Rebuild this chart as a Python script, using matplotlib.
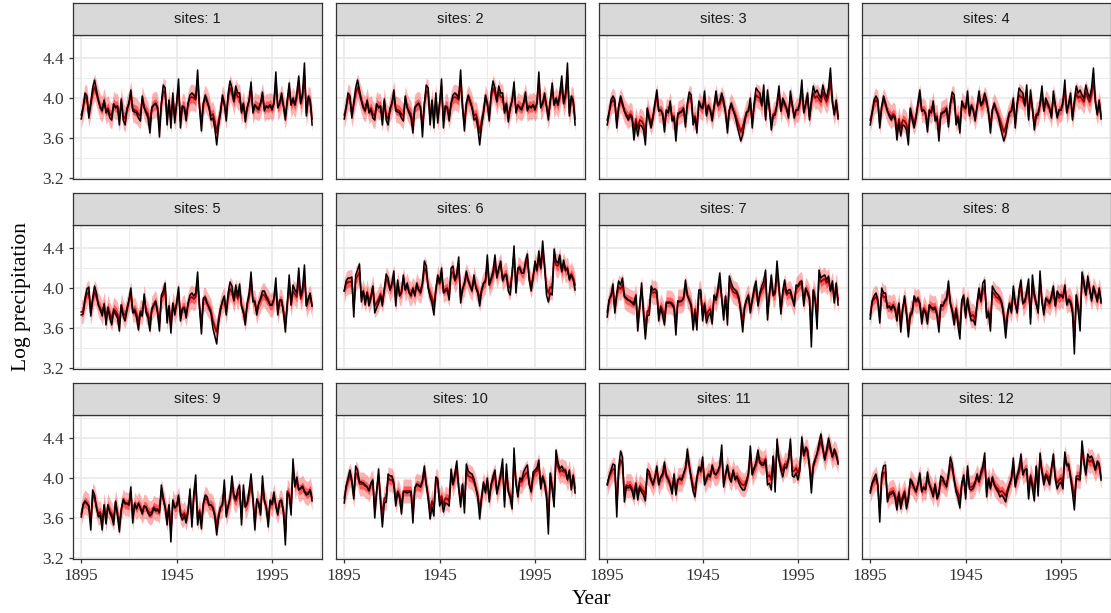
import matplotlib.pyplot as plt
import numpy as np

# Years on the x axis
years = np.arange(1895, 2017)

# Observed log precipitation (black line), one list per site
obs_01 = [3.79, 3.90, 4.05, 4.02, 3.80, 3.95, 4.10, 4.18, 4.08, 3.98,
          3.90, 3.87, 3.98, 3.85, 3.88, 3.80, 3.78, 3.94, 3.90, 3.92,
          3.73, 3.99, 3.78, 3.73, 3.88, 3.95, 4.08, 3.87, 3.86, 3.85,
          3.80, 3.77, 4.02, 3.90, 3.85, 3.80, 3.65, 3.90, 3.93, 3.95,
          3.90, 3.61, 3.95, 4.13, 4.10, 3.73, 3.98, 3.70, 4.05, 3.75,
          3.95, 4.19, 3.70, 3.92, 3.90, 3.77, 3.95, 4.03, 4.05, 4.03,
          4.00, 4.28, 3.90, 3.67, 3.95, 4.03, 3.97, 3.90, 3.78, 3.80,
          3.70, 3.53, 3.72, 3.85, 4.03, 3.95, 3.77, 4.05, 4.17, 4.10,
          3.97, 4.12, 4.05, 4.05, 3.85, 3.95, 3.76, 3.90, 3.98, 4.16,
          3.85, 3.93, 3.90, 3.88, 3.95, 4.06, 3.87, 3.92, 3.90, 3.93,
          3.88, 3.95, 4.26, 3.90, 3.95, 4.05, 3.92, 3.78, 3.98, 4.15,
          3.93, 4.00, 3.93, 4.05, 4.22, 3.95, 4.05, 4.35, 3.82, 4.02,
          3.98, 3.73]
obs_02 = obs_01  # sites 1 and 2 show the same observations
obs_03 = [3.73, 3.85, 3.98, 4.02, 3.98, 3.70, 3.92, 4.02, 3.95, 3.87,
          3.82, 3.78, 3.82, 3.80, 3.58, 3.75, 3.62, 3.73, 3.72, 3.68,
          3.53, 3.90, 3.78, 3.70, 3.80, 3.95, 4.08, 3.87, 3.88, 3.84,
          3.66, 3.88, 3.85, 3.97, 3.77, 3.80, 3.57, 3.83, 3.85, 3.86,
          3.90, 3.71, 3.95, 4.06, 4.03, 3.73, 3.80, 3.65, 3.97, 3.92,
          3.90, 4.07, 3.82, 3.93, 3.88, 3.77, 3.92, 4.07, 3.93, 3.97,
          4.05, 3.98, 3.85, 3.65, 3.88, 3.95, 3.88, 3.82, 3.73, 3.65,
          3.57, 3.63, 3.75, 3.85, 3.87, 4.00, 3.70, 3.95, 4.10, 4.07,
          4.05, 3.93, 4.13, 3.78, 4.08, 3.90, 3.68, 3.82, 3.83, 3.95,
          4.12, 3.87, 4.00, 3.95, 3.90, 3.80, 4.07, 3.93, 3.80, 3.88,
          3.88, 3.97, 4.18, 3.85, 3.95, 4.05, 3.78, 3.98, 4.12, 4.05,
          4.08, 4.03, 4.00, 4.13, 4.05, 4.00, 4.10, 4.30, 3.98, 3.83,
          3.98, 3.79]
obs_04 = obs_03  # sites 3 and 4 show the same observations
obs_05 = [3.73, 3.74, 3.90, 3.99, 4.01, 3.72, 3.90, 4.02, 3.95, 3.83,
          3.78, 3.72, 3.84, 3.63, 3.80, 3.70, 3.63, 3.77, 3.74, 3.70,
          3.57, 3.83, 3.72, 3.67, 3.78, 3.88, 4.00, 3.75, 3.77, 3.70,
          3.58, 3.75, 3.72, 3.94, 3.75, 3.70, 3.57, 3.78, 3.83, 3.87,
          3.75, 3.57, 3.93, 3.97, 4.05, 3.65, 3.82, 3.55, 3.85, 3.73,
          3.85, 4.01, 3.67, 3.78, 3.80, 3.70, 3.85, 3.93, 3.95, 3.92,
          3.95, 4.16, 3.80, 3.54, 3.90, 3.91, 3.85, 3.80, 3.75, 3.60,
          3.52, 3.44, 3.65, 3.78, 3.87, 3.92, 3.73, 3.95, 4.06, 4.02,
          3.88, 4.03, 3.92, 4.04, 3.82, 3.75, 3.63, 3.85, 3.95, 4.16,
          3.87, 3.87, 3.73, 3.85, 3.90, 3.97, 3.97, 3.92, 3.88, 3.83,
          3.83, 3.90, 4.10, 3.73, 3.88, 3.88, 3.75, 3.56, 3.85, 4.13,
          3.83, 4.03, 3.98, 3.95, 4.20, 3.92, 4.00, 4.23, 3.82, 3.90,
          3.95, 3.82]
obs_06 = [3.97, 4.07, 4.10, 4.10, 4.11, 3.71, 4.13, 4.18, 4.24, 3.86,
          3.97, 3.83, 3.95, 3.82, 3.90, 4.02, 3.75, 3.80, 3.85, 3.92,
          3.82, 3.98, 4.14, 4.10, 3.98, 4.05, 4.17, 3.82, 4.08, 3.92,
          3.95, 4.13, 3.98, 4.05, 3.95, 3.92, 4.00, 3.92, 4.05, 3.98,
          3.95, 4.05, 4.27, 4.22, 4.00, 3.91, 3.85, 3.73, 3.97, 4.13,
          4.05, 4.20, 3.95, 3.97, 3.98, 3.88, 4.20, 4.22, 4.08, 4.15,
          4.31, 3.85, 3.98, 4.05, 4.17, 4.08, 4.02, 3.97, 4.13, 4.00,
          3.95, 3.82, 3.97, 4.05, 4.07, 4.33, 4.03, 4.10, 4.17, 4.33,
          4.10, 4.20, 4.27, 4.07, 4.12, 4.13, 3.97, 3.93, 4.15, 4.42,
          3.95, 4.20, 4.21, 4.15, 4.15, 4.27, 4.34, 4.07, 3.97, 4.10,
          4.27, 4.18, 4.37, 4.20, 4.47, 4.23, 3.93, 3.86, 3.95, 3.93,
          4.39, 4.27, 4.25, 4.33, 4.17, 4.28, 4.18, 4.20, 4.08, 4.13,
          4.08, 3.98]
obs_07 = [3.71, 3.88, 3.93, 4.04, 3.75, 3.95, 4.07, 4.03, 4.10, 3.92,
          3.90, 3.88, 3.87, 3.85, 3.83, 3.93, 3.57, 3.80, 4.05, 3.73,
          3.49, 3.72, 3.73, 4.02, 3.98, 3.99, 3.97, 3.67, 3.80, 3.73,
          3.63, 3.85, 3.85, 3.85, 3.83, 3.80, 3.53, 3.87, 3.86, 3.87,
          3.90, 4.08, 3.93, 3.88, 3.82, 3.58, 3.75, 3.58, 3.98, 3.98,
          3.67, 3.83, 3.65, 3.72, 3.75, 3.64, 3.93, 3.88, 4.00, 4.15,
          3.90, 3.68, 3.92, 3.63, 4.12, 4.05, 4.00, 3.98, 3.96, 3.90,
          3.75, 3.56, 3.80, 3.88, 3.93, 3.75, 3.88, 4.00, 4.07, 3.82,
          3.95, 4.02, 4.07, 4.18, 3.68, 3.95, 4.13, 3.93, 3.97, 4.27,
          4.03, 3.74, 3.97, 4.08, 3.95, 3.98, 3.98, 3.90, 3.82, 4.03,
          4.02, 4.06, 4.07, 3.82, 4.00, 3.95, 3.88, 3.41, 3.98, 3.87,
          3.59, 4.18, 4.10, 4.12, 4.13, 4.08, 4.12, 3.97, 4.07, 3.85,
          4.05, 3.83]
obs_08 = [3.69, 3.87, 3.92, 3.95, 3.88, 3.65, 4.00, 3.95, 3.95, 3.80,
          3.82, 3.78, 3.83, 3.78, 3.67, 3.85, 3.56, 3.78, 3.92, 3.73,
          3.51, 3.72, 3.75, 3.92, 3.87, 3.90, 3.85, 3.64, 3.78, 3.75,
          3.64, 3.83, 3.80, 3.78, 3.80, 3.72, 3.56, 3.83, 3.82, 3.87,
          3.90, 4.07, 3.85, 3.76, 3.63, 3.78, 3.62, 3.49, 3.88, 3.93,
          3.70, 3.90, 3.75, 3.67, 3.68, 3.63, 3.85, 4.00, 3.87, 4.05,
          4.08, 3.70, 3.75, 3.57, 4.02, 3.98, 3.95, 3.93, 3.90, 3.85,
          3.70, 3.50, 3.73, 3.85, 3.75, 4.02, 3.85, 3.75, 3.98, 4.08,
          3.85, 3.87, 3.97, 4.09, 3.64, 4.13, 3.95, 3.85, 3.75, 4.17,
          3.87, 3.73, 3.90, 3.88, 3.85, 3.93, 4.02, 3.82, 3.97, 3.93,
          3.93, 3.90, 4.03, 3.83, 3.88, 3.85, 3.75, 3.34, 3.93, 3.77,
          3.57, 4.16, 4.07, 3.93, 4.12, 4.00, 3.87, 4.02, 3.95, 3.86,
          4.00, 3.85]
obs_09 = [3.61, 3.74, 3.77, 3.75, 3.72, 3.48, 3.88, 3.83, 3.70, 3.61,
          3.63, 3.48, 3.73, 3.54, 3.73, 3.65, 3.61, 3.53, 3.77, 3.62,
          3.46, 3.68, 3.79, 3.75, 3.75, 3.73, 3.91, 3.55, 3.75, 3.69,
          3.75, 3.70, 3.64, 3.72, 3.71, 3.65, 3.62, 3.64, 3.70, 3.67,
          3.68, 3.65, 3.93, 3.81, 3.70, 3.53, 3.73, 3.36, 3.78, 3.70,
          3.72, 3.83, 3.63, 3.58, 3.62, 3.55, 3.66, 3.89, 3.51, 3.85,
          4.03, 3.53, 3.66, 3.49, 3.75, 3.83, 3.81, 3.73, 3.73, 3.70,
          3.61, 3.43, 3.60, 3.70, 3.73, 3.98, 3.61, 3.72, 3.81, 4.02,
          3.84, 3.79, 3.88, 3.93, 3.53, 3.93, 3.71, 3.75, 3.88, 4.04,
          3.80, 3.48, 3.79, 3.75, 3.63, 4.02, 3.78, 3.70, 3.51, 3.78,
          3.74, 3.86, 3.72, 3.63, 3.77, 3.78, 3.65, 3.33, 3.85, 3.82,
          3.63, 4.19, 3.92, 4.01, 3.88, 3.90, 3.92, 3.86, 3.83, 3.84,
          3.88, 3.77]
obs_10 = [3.75, 3.92, 4.00, 4.08, 3.98, 3.79, 4.12, 4.08, 3.96, 3.96,
          3.95, 3.93, 3.91, 3.87, 3.95, 3.98, 3.60, 3.86, 4.09, 3.75,
          3.51, 3.75, 3.76, 4.04, 4.02, 4.02, 3.95, 3.72, 3.86, 3.80,
          3.64, 3.86, 3.86, 3.85, 3.86, 3.86, 3.55, 3.90, 3.94, 3.93,
          3.91, 3.98, 4.12, 3.94, 3.79, 3.59, 3.71, 3.62, 4.01, 3.99,
          3.72, 3.78, 3.66, 3.75, 3.74, 3.72, 4.09, 3.94, 4.05, 4.17,
          3.90, 3.71, 3.94, 3.65, 4.14, 4.07, 4.05, 4.04, 3.99, 3.90,
          3.80, 3.59, 3.79, 3.96, 3.85, 4.00, 3.76, 3.94, 4.02, 4.08,
          3.84, 3.94, 4.05, 4.19, 3.71, 4.14, 3.86, 3.80, 3.69, 4.30,
          3.96, 3.81, 4.00, 3.98, 4.06, 4.10, 4.13, 3.94, 3.86, 4.06,
          4.08, 4.10, 4.18, 3.89, 4.02, 3.94, 3.80, 3.44, 4.05, 3.88,
          3.71, 4.28, 4.16, 4.09, 4.12, 4.08, 4.08, 3.98, 4.08, 3.88,
          4.03, 3.85]
obs_11 = [3.93, 4.02, 4.08, 4.14, 4.13, 3.61, 4.11, 4.27, 4.21, 3.76,
          3.91, 3.90, 3.91, 3.87, 3.79, 3.94, 3.78, 3.90, 3.86, 3.83,
          3.77, 4.09, 4.06, 3.98, 3.93, 4.01, 4.12, 3.93, 4.01, 4.04,
          4.16, 4.03, 3.99, 3.93, 3.84, 4.04, 3.83, 3.98, 4.00, 3.98,
          4.04, 4.10, 4.29, 4.14, 3.99, 3.87, 3.81, 3.99, 4.11, 4.07,
          4.21, 3.93, 3.98, 4.03, 4.01, 4.13, 4.05, 4.03, 4.07, 4.13,
          4.33, 3.91, 4.03, 4.13, 4.00, 3.96, 4.08, 3.98, 4.01, 3.95,
          3.91, 3.88, 3.88, 3.95, 4.04, 4.32, 4.03, 4.10, 4.16, 4.28,
          4.15, 4.13, 4.13, 4.18, 3.93, 3.95, 3.88, 4.22, 3.86, 4.39,
          4.18, 4.08, 4.01, 4.11, 4.10, 4.18, 4.39, 4.02, 4.01, 4.05,
          3.98, 4.08, 4.41, 4.23, 4.31, 4.28, 4.10, 3.85, 4.11, 4.18,
          4.25, 4.35, 4.44, 4.31, 4.18, 4.29, 4.40, 4.31, 4.21, 4.29,
          4.24, 4.14]
obs_12 = [3.85, 3.95, 4.00, 4.04, 3.93, 3.56, 4.03, 4.12, 4.13, 3.76,
          3.83, 3.84, 3.86, 3.80, 3.68, 3.84, 3.69, 3.78, 3.85, 3.69,
          3.78, 3.99, 3.96, 3.90, 3.86, 3.94, 4.05, 3.86, 3.91, 3.88,
          4.06, 3.94, 3.88, 3.81, 3.94, 3.79, 3.84, 4.02, 4.00, 3.95,
          3.91, 4.04, 4.21, 4.14, 3.98, 3.86, 3.80, 3.70, 3.94, 4.03,
          3.79, 4.12, 3.89, 3.88, 3.90, 3.95, 4.04, 3.96, 4.06, 4.12,
          4.25, 3.81, 4.00, 3.89, 4.01, 3.93, 3.89, 3.86, 3.81, 3.83,
          3.80, 3.76, 3.86, 3.93, 4.00, 4.20, 3.91, 4.03, 4.10, 4.24,
          4.03, 4.08, 4.09, 3.79, 4.01, 3.90, 3.77, 4.12, 3.82, 4.25,
          4.06, 3.93, 4.02, 3.99, 3.93, 4.10, 4.24, 3.98, 3.89, 3.94,
          3.96, 3.89, 4.26, 4.13, 4.14, 4.00, 3.85, 3.68, 4.00, 3.99,
          3.98, 4.37, 4.18, 4.03, 4.24, 4.20, 4.22, 4.17, 4.08, 4.17,
          4.14, 3.98]

# Fitted values (dark red line, centre of the ribbons)
fit_01 = [3.83, 3.91, 4.01, 3.99, 3.84, 3.94, 4.05, 4.11, 4.04, 3.97,
          3.91, 3.89, 3.97, 3.87, 3.90, 3.84, 3.82, 3.94, 3.91, 3.92,
          3.79, 3.97, 3.82, 3.79, 3.90, 3.94, 4.04, 3.89, 3.88, 3.87,
          3.84, 3.82, 3.99, 3.91, 3.87, 3.84, 3.73, 3.91, 3.93, 3.94,
          3.91, 3.71, 3.94, 4.07, 4.05, 3.79, 3.97, 3.77, 4.01, 3.80,
          3.94, 4.11, 3.77, 3.92, 3.91, 3.82, 3.94, 4.00, 4.01, 4.00,
          3.98, 4.18, 3.91, 3.75, 3.94, 4.00, 3.96, 3.91, 3.82, 3.84,
          3.77, 3.65, 3.78, 3.87, 4.00, 3.94, 3.82, 4.01, 4.10, 4.05,
          3.96, 4.06, 4.01, 4.01, 3.87, 3.94, 3.81, 3.91, 3.97, 4.09,
          3.87, 3.93, 3.91, 3.90, 3.94, 4.02, 3.89, 3.92, 3.91, 3.93,
          3.90, 3.94, 4.16, 3.91, 3.94, 4.01, 3.92, 3.82, 3.97, 4.08,
          3.93, 3.98, 3.93, 4.01, 4.13, 3.94, 4.01, 4.22, 3.85, 3.99,
          3.97, 3.79]
fit_02 = fit_01
fit_03 = [3.78, 3.86, 3.95, 3.98, 3.95, 3.75, 3.91, 3.98, 3.93, 3.87,
          3.84, 3.81, 3.84, 3.82, 3.67, 3.79, 3.70, 3.78, 3.77, 3.74,
          3.64, 3.89, 3.81, 3.75, 3.82, 3.93, 4.02, 3.87, 3.88, 3.85,
          3.73, 3.88, 3.86, 3.94, 3.80, 3.82, 3.66, 3.85, 3.86, 3.87,
          3.89, 3.76, 3.93, 4.01, 3.99, 3.78, 3.82, 3.72, 3.94, 3.91,
          3.89, 4.01, 3.84, 3.92, 3.88, 3.80, 3.91, 4.01, 3.92, 3.94,
          4.00, 3.95, 3.86, 3.72, 3.88, 3.93, 3.88, 3.84, 3.78, 3.72,
          3.66, 3.71, 3.79, 3.86, 3.87, 3.96, 3.75, 3.93, 4.03, 4.01,
          4.00, 3.92, 4.06, 3.81, 4.02, 3.89, 3.74, 3.84, 3.85, 3.93,
          4.05, 3.87, 3.96, 3.93, 3.89, 3.82, 4.01, 3.92, 3.82, 3.88,
          3.88, 3.94, 4.09, 3.86, 3.93, 4.00, 3.81, 3.95, 4.05, 4.00,
          4.02, 3.99, 3.96, 4.06, 4.00, 3.96, 4.03, 4.17, 3.95, 3.85,
          3.95, 3.82]
fit_04 = fit_03
fit_05 = [3.76, 3.77, 3.88, 3.94, 3.96, 3.75, 3.88, 3.96, 3.91, 3.83,
          3.80, 3.75, 3.84, 3.69, 3.81, 3.74, 3.69, 3.79, 3.77, 3.74,
          3.65, 3.83, 3.75, 3.72, 3.80, 3.87, 3.95, 3.77, 3.79, 3.74,
          3.66, 3.77, 3.75, 3.91, 3.77, 3.74, 3.65, 3.80, 3.83, 3.86,
          3.77, 3.65, 3.90, 3.93, 3.98, 3.70, 3.82, 3.63, 3.84, 3.76,
          3.84, 3.96, 3.72, 3.80, 3.81, 3.74, 3.84, 3.90, 3.91, 3.89,
          3.91, 4.06, 3.81, 3.63, 3.88, 3.89, 3.84, 3.81, 3.77, 3.67,
          3.61, 3.56, 3.70, 3.80, 3.86, 3.89, 3.76, 3.91, 3.99, 3.96,
          3.87, 3.97, 3.89, 3.98, 3.82, 3.77, 3.69, 3.84, 3.91, 4.06,
          3.86, 3.86, 3.76, 3.84, 3.88, 3.93, 3.93, 3.89, 3.87, 3.83,
          3.83, 3.88, 4.02, 3.76, 3.87, 3.87, 3.77, 3.64, 3.84, 4.04,
          3.83, 3.97, 3.94, 3.91, 4.09, 3.89, 3.95, 4.11, 3.82, 3.88,
          3.91, 3.82]
fit_06 = [3.97, 4.04, 4.06, 4.06, 4.07, 3.79, 4.09, 4.12, 4.16, 3.90,
          3.97, 3.88, 3.96, 3.87, 3.92, 4.01, 3.82, 3.85, 3.89, 3.94,
          3.87, 3.98, 4.09, 4.06, 3.98, 4.03, 4.11, 3.87, 4.05, 3.94,
          3.96, 4.09, 3.98, 4.03, 3.96, 3.94, 3.99, 3.94, 4.03, 3.98,
          3.97, 4.04, 4.20, 4.16, 4.01, 3.95, 3.90, 3.82, 3.99, 4.10,
          4.04, 4.15, 3.97, 3.99, 4.00, 3.93, 4.15, 4.16, 4.07, 4.11,
          4.23, 3.90, 4.00, 4.04, 4.13, 4.07, 4.02, 3.99, 4.10, 4.01,
          3.97, 3.88, 3.99, 4.04, 4.06, 4.24, 4.03, 4.08, 4.13, 4.24,
          4.12, 4.19, 4.23, 4.09, 4.13, 4.14, 4.02, 4.00, 4.15, 4.34,
          4.01, 4.19, 4.19, 4.15, 4.15, 4.23, 4.28, 4.09, 4.02, 4.12,
          4.23, 4.17, 4.30, 4.19, 4.37, 4.21, 4.00, 3.95, 4.01, 4.00,
          4.32, 4.23, 4.22, 4.28, 4.16, 4.24, 4.17, 4.19, 4.10, 4.14,
          4.10, 4.03]
fit_07 = [3.76, 3.88, 3.92, 3.99, 3.79, 3.93, 4.01, 3.99, 4.03, 3.91,
          3.89, 3.88, 3.87, 3.86, 3.85, 3.92, 3.66, 3.82, 4.00, 3.78,
          3.61, 3.77, 3.78, 3.98, 3.95, 3.96, 3.94, 3.73, 3.82, 3.78,
          3.71, 3.86, 3.86, 3.86, 3.85, 3.82, 3.64, 3.87, 3.87, 3.87,
          3.89, 4.02, 3.92, 3.88, 3.84, 3.67, 3.79, 3.67, 3.95, 3.95,
          3.73, 3.85, 3.72, 3.77, 3.79, 3.71, 3.92, 3.88, 3.96, 4.07,
          3.89, 3.74, 3.91, 3.71, 4.05, 4.00, 3.96, 3.95, 3.94, 3.89,
          3.79, 3.66, 3.82, 3.88, 3.92, 3.79, 3.88, 3.96, 4.01, 3.84,
          3.93, 3.98, 4.01, 4.09, 3.74, 3.93, 4.06, 3.92, 3.94, 4.15,
          3.99, 3.78, 3.94, 4.02, 3.93, 3.95, 3.95, 3.89, 3.84, 3.99,
          4.01, 4.04, 4.04, 3.87, 3.99, 3.96, 3.91, 3.58, 3.98, 3.90,
          3.71, 4.12, 4.06, 4.08, 4.09, 4.05, 4.08, 3.97, 4.04, 3.89,
          4.03, 3.88]
fit_08 = [3.73, 3.86, 3.89, 3.91, 3.87, 3.70, 3.95, 3.91, 3.91, 3.81,
          3.82, 3.80, 3.83, 3.80, 3.72, 3.84, 3.64, 3.80, 3.89, 3.76,
          3.61, 3.75, 3.77, 3.89, 3.86, 3.88, 3.84, 3.70, 3.80, 3.77,
          3.70, 3.83, 3.81, 3.80, 3.81, 3.75, 3.64, 3.83, 3.82, 3.86,
          3.88, 4.00, 3.84, 3.78, 3.69, 3.80, 3.68, 3.59, 3.87, 3.90,
          3.74, 3.88, 3.77, 3.72, 3.73, 3.69, 3.84, 3.95, 3.86, 3.98,
          4.01, 3.74, 3.77, 3.65, 3.96, 3.94, 3.91, 3.90, 3.88, 3.84,
          3.74, 3.60, 3.76, 3.84, 3.77, 3.96, 3.84, 3.77, 3.94, 4.01,
          3.84, 3.86, 3.93, 4.01, 3.70, 4.04, 3.91, 3.84, 3.77, 4.07,
          3.86, 3.76, 3.88, 3.87, 3.84, 3.90, 3.96, 3.82, 3.93, 3.90,
          3.93, 3.91, 4.00, 3.86, 3.89, 3.87, 3.80, 3.51, 3.93, 3.82,
          3.68, 4.09, 4.03, 3.93, 4.06, 3.98, 3.89, 3.99, 3.94, 3.88,
          3.98, 3.87]
fit_09 = [3.64, 3.73, 3.76, 3.74, 3.72, 3.55, 3.83, 3.80, 3.71, 3.64,
          3.66, 3.55, 3.73, 3.59, 3.73, 3.67, 3.64, 3.59, 3.76, 3.65,
          3.54, 3.69, 3.77, 3.74, 3.74, 3.73, 3.85, 3.60, 3.74, 3.70,
          3.74, 3.71, 3.66, 3.72, 3.71, 3.67, 3.65, 3.66, 3.71, 3.69,
          3.69, 3.67, 3.87, 3.78, 3.71, 3.59, 3.73, 3.47, 3.76, 3.71,
          3.72, 3.80, 3.66, 3.62, 3.65, 3.60, 3.68, 3.84, 3.57, 3.81,
          3.94, 3.59, 3.68, 3.56, 3.74, 3.80, 3.78, 3.73, 3.73, 3.71,
          3.64, 3.52, 3.64, 3.71, 3.73, 3.90, 3.64, 3.72, 3.78, 3.93,
          3.80, 3.77, 3.83, 3.87, 3.59, 3.87, 3.71, 3.74, 3.83, 3.94,
          3.78, 3.55, 3.77, 3.74, 3.66, 3.93, 3.76, 3.71, 3.57, 3.76,
          3.73, 3.82, 3.72, 3.66, 3.76, 3.76, 3.67, 3.45, 3.87, 3.84,
          3.71, 4.10, 3.91, 3.97, 3.88, 3.89, 3.91, 3.87, 3.85, 3.85,
          3.88, 3.80]
fit_10 = [3.80, 3.91, 3.97, 4.03, 3.96, 3.82, 4.05, 4.03, 3.94, 3.94,
          3.94, 3.92, 3.91, 3.88, 3.94, 3.96, 3.69, 3.87, 4.03, 3.80,
          3.63, 3.80, 3.80, 4.00, 3.98, 3.98, 3.94, 3.77, 3.87, 3.83,
          3.72, 3.87, 3.87, 3.87, 3.87, 3.87, 3.66, 3.90, 3.93, 3.92,
          3.91, 3.96, 4.05, 3.93, 3.82, 3.68, 3.77, 3.70, 3.98, 3.96,
          3.77, 3.82, 3.73, 3.80, 3.79, 3.77, 4.03, 3.93, 4.01, 4.09,
          3.90, 3.77, 3.93, 3.73, 4.07, 4.02, 4.01, 4.00, 3.96, 3.90,
          3.83, 3.68, 3.82, 3.94, 3.87, 3.97, 3.80, 3.93, 3.98, 4.03,
          3.86, 3.93, 4.01, 4.10, 3.77, 4.07, 3.87, 3.83, 3.75, 4.18,
          3.94, 3.84, 3.97, 3.96, 4.01, 4.04, 4.06, 3.93, 3.87, 4.01,
          4.06, 4.07, 4.13, 3.92, 4.01, 3.96, 3.86, 3.61, 4.04, 3.92,
          3.80, 4.20, 4.11, 4.06, 4.08, 4.06, 4.06, 3.99, 4.06, 3.92,
          4.02, 3.90]
fit_11 = [3.94, 4.01, 4.05, 4.09, 4.08, 3.72, 4.07, 4.18, 4.14, 3.82,
          3.93, 3.92, 3.93, 3.90, 3.84, 3.95, 3.84, 3.92, 3.89, 3.87,
          3.83, 4.05, 4.03, 3.98, 3.94, 4.00, 4.08, 3.94, 4.00, 4.02,
          4.10, 4.01, 3.98, 3.94, 3.88, 4.02, 3.87, 3.98, 3.99, 3.98,
          4.04, 4.09, 4.22, 4.11, 4.01, 3.92, 3.88, 4.01, 4.09, 4.06,
          4.16, 3.97, 4.00, 4.04, 4.02, 4.11, 4.05, 4.04, 4.06, 4.11,
          4.25, 3.95, 4.04, 4.11, 4.02, 3.99, 4.07, 4.00, 4.02, 3.98,
          3.95, 3.93, 3.93, 3.98, 4.04, 4.24, 4.04, 4.09, 4.13, 4.21,
          4.17, 4.15, 4.15, 4.19, 4.01, 4.03, 3.98, 4.21, 3.96, 4.33,
          4.19, 4.12, 4.07, 4.14, 4.13, 4.19, 4.33, 4.07, 4.07, 4.10,
          4.05, 4.12, 4.35, 4.22, 4.28, 4.26, 4.13, 3.96, 4.14, 4.19,
          4.24, 4.31, 4.37, 4.28, 4.19, 4.26, 4.34, 4.28, 4.21, 4.26,
          4.23, 4.16]
fit_12 = [3.87, 3.94, 3.97, 4.00, 3.92, 3.66, 3.99, 4.05, 4.06, 3.80,
          3.85, 3.86, 3.87, 3.83, 3.75, 3.86, 3.75, 3.82, 3.87, 3.75,
          3.82, 3.96, 3.94, 3.90, 3.87, 3.93, 4.01, 3.87, 3.91, 3.89,
          4.01, 3.93, 3.89, 3.84, 3.93, 3.82, 3.86, 3.98, 3.97, 3.94,
          3.93, 4.02, 4.14, 4.09, 3.98, 3.89, 3.85, 3.78, 3.95, 4.01,
          3.84, 4.08, 3.91, 3.91, 3.92, 3.96, 4.02, 3.96, 4.03, 4.08,
          4.17, 3.86, 3.99, 3.91, 4.00, 3.94, 3.91, 3.89, 3.86, 3.87,
          3.85, 3.82, 3.89, 3.94, 3.99, 4.13, 3.93, 4.01, 4.06, 4.16,
          4.05, 4.08, 4.09, 3.88, 4.03, 3.95, 3.86, 4.11, 3.90, 4.20,
          4.07, 3.98, 4.04, 4.02, 3.98, 4.09, 4.19, 4.01, 3.95, 3.98,
          4.00, 3.95, 4.21, 4.12, 4.12, 4.02, 3.92, 3.80, 4.02, 4.02,
          4.01, 4.28, 4.15, 4.05, 4.19, 4.16, 4.18, 4.14, 4.08, 4.14,
          4.12, 4.01]

# Half widths of the 95% (light) and 50% (dark) bands per site
hw95 = [0.13, 0.13, 0.12, 0.12, 0.12, 0.12, 0.12, 0.12, 0.12, 0.12, 0.12, 0.12]
hw50 = [0.055, 0.055, 0.05, 0.05, 0.05, 0.05, 0.05, 0.05, 0.05, 0.05, 0.05, 0.05]

sites = list(range(1, 13))
obs_all = [obs_01, obs_02, obs_03, obs_04, obs_05, obs_06,
           obs_07, obs_08, obs_09, obs_10, obs_11, obs_12]
fit_all = [fit_01, fit_02, fit_03, fit_04, fit_05, fit_06,
           fit_07, fit_08, fit_09, fit_10, fit_11, fit_12]

W, H = 1111, 613
fig = plt.figure(figsize=(W / 100, H / 100), dpi=100)

def box(x, y, w, h):
    # pixel box (top-left origin) -> figure fraction
    return [x / W, 1 - (y + h) / H, w / W, h / H]

serif = 'Liberation Serif'
edge = '#333333'

for k, site in enumerate(sites):
    r, c = divmod(k, 4)
    x0 = 73 + 263 * c
    y0 = 35 + 190 * r
    ax = fig.add_axes(box(x0, y0, 249, 144))
    obs = np.array(obs_all[k])
    fit = np.array(fit_all[k])
    ax.fill_between(years, fit - hw95[k], fit + hw95[k], color='#FF0000', alpha=0.3, lw=0)
    ax.fill_between(years, fit - hw50[k], fit + hw50[k], color='#FF0000', alpha=0.5, lw=0)
    ax.plot(years, fit, color='#8B0000', lw=1.2)
    ax.plot(years, obs, color='black', lw=1.1)

    ax.set_xlim(1890.7, 2021.2)
    ax.set_ylim(3.19, 4.63)
    ax.set_xticks([1895, 1945, 1995])
    ax.set_xticks([1920, 1970, 2020], minor=True)
    ax.set_yticks([3.2, 3.6, 4.0, 4.4])
    ax.set_yticks([3.4, 3.8, 4.2, 4.6], minor=True)
    ax.grid(which='major', color='#EBEBEB', lw=1.3)
    ax.grid(which='minor', color='#EBEBEB', lw=0.7)
    ax.set_axisbelow(True)
    for s in ax.spines.values():
        s.set_color(edge)
        s.set_linewidth(0.9)
    ax.tick_params(which='minor', length=0)
    ax.tick_params(which='major', color=edge, length=3, width=0.9,
                   labelcolor='#333333', labelsize=12.5)
    if c != 0:
        ax.tick_params(axis='y', which='major', length=0, labelleft=False)
    if r != 2:
        ax.tick_params(axis='x', which='major', length=0, labelbottom=False)
    for lab in ax.get_xticklabels() + ax.get_yticklabels():
        lab.set_fontfamily(serif)
    ax.set_yticklabels(['3.2', '3.6', '4.0', '4.4'])

    # facet strip
    st = fig.add_axes(box(x0, y0 - 32, 249, 32))
    st.set_facecolor('#D9D9D9')
    st.set_xticks([])
    st.set_yticks([])
    for s in st.spines.values():
        s.set_color(edge)
        s.set_linewidth(0.9)
    st.text(0.5, 0.5, f'sites: {site}', ha='center', va='center',
            fontsize=10.5, color='#1A1A1A', family='Liberation Sans',
            transform=st.transAxes)

fig.text(22 / W, 1 - 297 / H, 'Log precipitation', rotation=90, ha='center',
         va='center', fontsize=15.5, family=serif)
fig.text(592 / W, 1 - 599 / H, 'Year', ha='center', va='center',
         fontsize=15.5, family=serif)

fig.savefig('out.png', dpi=100)
